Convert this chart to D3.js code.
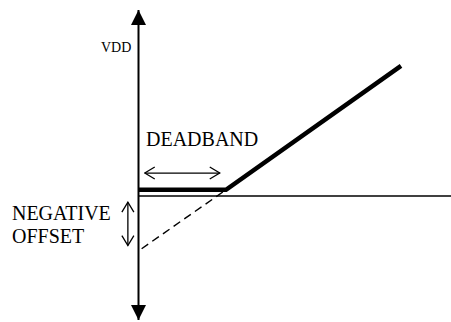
<!DOCTYPE html>
<html>
<head>
  <meta charset="utf-8">
  <script src="https://cdn.jsdelivr.net/npm/d3@7/dist/d3.min.js"></script>
  <style>
    body { margin: 0; background: #fff; }
  </style>
</head>
<body>
  <script>
    const w = 451;
    const h = 322;

    // Diagram values (input units along x, output units along y)
    const transfer = [[0, 2], [28, 2], [84, 42]]; // thick output curve
    const extension = [[1, -17], [28, 2]];        // dashed extrapolation
    const deadbandSpan = [2, 26];                 // horizontal dimension arrow
    const deadbandLevel = 7.4;
    const offsetSpan = [-2, -16];                 // vertical dimension arrow
    const offsetX = -3.4;
    const labels = [
      { text: "VDD", x: -2.3, y: 46.5, size: 14, anchor: "end" },
      { text: "DEADBAND", x: 2.4, y: 16, size: 20, anchor: "start" },
      { text: "NEGATIVE", x: -40.5, y: -7.6, size: 20, anchor: "start" },
      { text: "OFFSET", x: -40.5, y: -15, size: 20, anchor: "start" }
    ];

    const x = d3.scaleLinear().domain([0, 100]).range([138.5, 451]);
    const y = d3.scaleLinear().domain([-40, 60]).range([320, 10]);

    const svg = d3.select("body").append("svg")
      .attr("width", w)
      .attr("height", h);

    const defs = svg.append("defs");
    // filled arrowhead for the y axis
    defs.append("marker")
      .attr("id", "solid")
      .attr("markerUnits", "userSpaceOnUse")
      .attr("viewBox", "0 -7.5 15 15")
      .attr("refX", 15).attr("refY", 0)
      .attr("markerWidth", 15).attr("markerHeight", 15)
      .attr("orient", "auto-start-reverse")
      .append("path")
      .attr("d", "M0,-7.5L15,0L0,7.5Z")
      .attr("fill", "#000");
    // open arrowhead for dimension arrows
    defs.append("marker")
      .attr("id", "open")
      .attr("markerUnits", "userSpaceOnUse")
      .attr("viewBox", "-1 -8 12 16")
      .attr("refX", 10).attr("refY", 0)
      .attr("markerWidth", 12).attr("markerHeight", 16)
      .attr("orient", "auto-start-reverse")
      .append("path")
      .attr("d", "M0,-6L10,0L0,6")
      .attr("fill", "none")
      .attr("stroke", "#000")
      .attr("stroke-width", 1.3);

    const line = d3.line().x(d => x(d[0])).y(d => y(d[1]));

    // zero line
    svg.append("path")
      .attr("d", line([[0, 0], [100, 0]]))
      .attr("stroke", "#000").attr("stroke-width", 1.5);

    // y axis with arrows both ends
    svg.append("path")
      .attr("d", line([[0, -40], [0, 60]]))
      .attr("stroke", "#000").attr("stroke-width", 2)
      .attr("marker-start", "url(#solid)")
      .attr("marker-end", "url(#solid)");

    // dashed extension
    svg.append("path")
      .attr("d", line(extension))
      .attr("fill", "none")
      .attr("stroke", "#000").attr("stroke-width", 1.4)
      .attr("stroke-dasharray", "8,5");

    // thick transfer curve
    svg.append("path")
      .attr("d", line(transfer))
      .attr("fill", "none")
      .attr("stroke", "#000").attr("stroke-width", 4.5)
      .attr("stroke-linejoin", "miter");

    // deadband dimension arrow
    svg.append("path")
      .attr("d", line(deadbandSpan.map(v => [v, deadbandLevel])))
      .attr("stroke", "#000").attr("stroke-width", 1.3)
      .attr("marker-start", "url(#open)")
      .attr("marker-end", "url(#open)");

    // negative offset dimension arrow
    svg.append("path")
      .attr("d", line(offsetSpan.map(v => [offsetX, v])))
      .attr("stroke", "#000").attr("stroke-width", 1.3)
      .attr("marker-start", "url(#open)")
      .attr("marker-end", "url(#open)");

    svg.selectAll("text.label")
      .data(labels)
      .enter()
      .append("text")
      .attr("class", "label")
      .attr("x", d => x(d.x))
      .attr("y", d => y(d.y))
      .attr("font-family", "'Liberation Serif', 'DejaVu Serif', serif")
      .attr("font-size", d => d.size)
      .attr("fill", "#000")
      .attr("text-anchor", d => d.anchor)
      .text(d => d.text);
  </script>
</body>
</html>
